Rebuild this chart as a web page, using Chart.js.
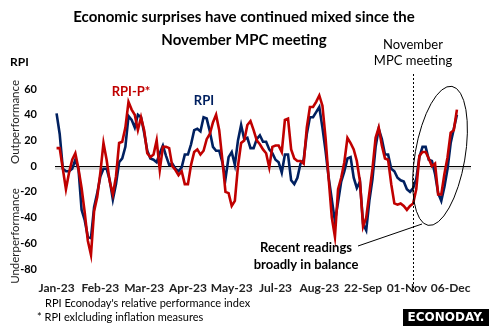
<!DOCTYPE html>
<html>
<head>
<meta charset="utf-8">
<script src="https://cdn.jsdelivr.net/npm/chart.js@4.4.1/dist/chart.umd.min.js"></script>
<style>
  html, body { margin: 0; padding: 0; background: #fff; }
  #wrap { width: 489px; height: 326px; }
</style>
</head>
<body>
<div id="wrap"><canvas id="rpiChart" width="489" height="326"></canvas></div>
<script>
// Axis labels shown under the chart, one every labelStep readings
const tickLabels = ['Jan-23', 'Feb-23', 'Mar-23', 'Apr-23', 'May-23', 'Jul-23', 'Aug-23', '22-Sep', '01-Nov', '06-Dec'];
const labelStep = 14;
const axisSlots = 133;   // a few empty slots after the last reading
const meetingIndex = 114; // November MPC meeting

// Econoday relative performance index
const rpi = [
  41, 25, -2, -4, -4, -2, 5, -2, -34, -42,
  -55, -56, -32, -21, -8, -2, -2, -11, -26, -14,
  3, 6, 15, 39, 36, 30, 40, 38, 26, 12,
  6, 5, 3, 10, 16, 8, 1, 2, -2, -4,
  -1, 9, 9, 17, 28, 29, 27, 38, 37, 27,
  15, 12, 12, 3, -10, 7, 11, 1, 20, 32,
  21, 22, 14, 14, 21, 24, 19, 19, 13, 10,
  5, 3, -5, 9, 9, -11, -14, -9, 2, 5,
  25, 38, 38, 42, 46, 30, 12, -9, -26, -43,
  -28, -12, -4, 6, 7, -9, -17, -12, -45, -50,
  -27, -10, 15, 29, 21, 9, 9, -2, -4, -9,
  -11, -12, -18, -20, -17, -10, 7, 15, 15, 5,
  4, -6, -21, -27, -16, -2, 18, 29, 40
];

// RPI excluding inflation measures
const rpiP = [
  14, 14, -2, -18, -5, 5, 10, -2, -17, -36,
  -58, -69, -35, -24, -5, 18, 5, -12, -22, -8,
  18, 19, 30, 50, 44, 40, 28, 38, 28, 10,
  7, 9, 20, -3, 15, 15, 14, 0, -3, -7,
  -4, -14, -14, 1, 11, 13, 9, 12, 21, 25,
  34, 40, 28, 5, -20, -21, -31, -27, 0, 18,
  20, 32, 35, 28, 20, 17, 13, 10, -1, 15,
  16, 16, 11, 36, 37, 13, 6, 4, 4, 2,
  30, 46, 46, 50, 55, 47, 22, -10, -40, -55,
  -18, -9, 3, 22, 18, 13, 4, -12, -47, -40,
  -21, -2, 22, 30, 16, 6, 5, -14, -29, -30,
  -29, -31, -34, -31, -29, -18, 8, 11, 11, 6,
  0, 2, -22, -22, -6, 7, 26, 28, 44
];

const labels = new Array(axisSlots).fill('');
tickLabels.forEach((t, i) => { labels[i * labelStep] = t; });

const NAVY = '#002060';
const RED = '#C00000';
const FONT = 'Lato, "Open Sans", sans-serif';

// Zero line, meeting marker, callout and all the free text
const decorations = {
  id: 'decorations',
  beforeDatasetsDraw(chart) {
    const { ctx, chartArea, scales } = chart;
    const y0 = scales.y.getPixelForValue(0);
    ctx.save();
    ctx.strokeStyle = '#d9d9d9';
    ctx.lineWidth = 3;
    ctx.beginPath();
    ctx.moveTo(chartArea.left, y0 + 2);
    ctx.lineTo(chartArea.right, y0 + 2);
    ctx.stroke();
    ctx.strokeStyle = '#000';
    ctx.lineWidth = 1;
    ctx.beginPath();
    ctx.moveTo(chartArea.left, Math.round(y0) + 0.5);
    ctx.lineTo(chartArea.right, Math.round(y0) + 0.5);
    ctx.stroke();
    ctx.restore();
  },
  afterDatasetsDraw(chart) {
    const { ctx, scales } = chart;
    const x = scales.x, y = scales.y;
    ctx.save();

    // dashed marker for the November meeting
    const mx = Math.round(x.getPixelForValue(meetingIndex)) + 0.5;
    ctx.strokeStyle = '#000';
    ctx.lineWidth = 1;
    ctx.setLineDash([2, 2]);
    ctx.beginPath();
    ctx.moveTo(mx, 74);
    ctx.lineTo(mx, 292);
    ctx.stroke();
    ctx.setLineDash([]);

    // ring round the latest readings
    const ex = x.getPixelForValue(122.6);
    const ey = y.getPixelForValue(8);
    ctx.beginPath();
    ctx.ellipse(ex, ey, 25, 70.5, 0.17, 0, Math.PI * 2);
    ctx.stroke();

    // callout from the note to the ring
    ctx.beginPath();
    ctx.moveTo(358, 246);
    ctx.lineTo(422, 224);
    ctx.stroke();

    const text = (str, tx, ty, font, color, align) => {
      ctx.font = font;
      ctx.fillStyle = color;
      ctx.textAlign = align || 'center';
      ctx.textBaseline = 'middle';
      ctx.fillText(str, tx, ty);
    };

    text('Economic surprises have continued mixed since the', 244, 17, 'bold 15px ' + FONT, '#000');
    text('November MPC meeting', 244, 40, 'bold 15px ' + FONT, '#000');
    text('RPI', 10, 62, 'bold 12px ' + FONT, '#000', 'left');
    text('November', 413, 45, '13px ' + FONT, '#000');
    text('MPC meeting', 413, 61, '13px ' + FONT, '#000');
    text('RPI-P*', 131, 92, 'bold 13px ' + FONT, RED);
    text('RPI', 204, 101, 'bold 13px ' + FONT, NAVY);
    text('Recent readings', 306, 248, 'bold 13px ' + FONT, '#000');
    text('broadly in balance', 306, 265, 'bold 13px ' + FONT, '#000');
    text("RPI Econoday's relative performance index", 45, 303, '11px ' + FONT, '#000', 'left');
    text('* RPI exlcluding inflation measures', 37, 317, '11px ' + FONT, '#000', 'left');

    // rotated side captions
    [['Outperformance', 122], ['Underperformance', 236]].forEach(([s, cy]) => {
      ctx.save();
      ctx.translate(15, cy);
      ctx.rotate(-Math.PI / 2);
      text(s, 0, 0, '11.5px ' + FONT, '#222');
      ctx.restore();
    });

    // logo badge
    ctx.fillStyle = '#000';
    ctx.fillRect(403, 309, 86, 17);
    text('ECONODAY.', 446, 318, 'bold 12px "DejaVu Sans", sans-serif', '#fff');

    ctx.restore();
  }
};

new Chart(document.getElementById('rpiChart'), {
  type: 'line',
  data: {
    labels: labels,
    datasets: [
      { label: 'RPI', data: rpi, borderColor: NAVY, borderWidth: 2.6, order: 2 },
      { label: 'RPI-P*', data: rpiP, borderColor: RED, borderWidth: 2.6, order: 1 }
    ]
  },
  options: {
    responsive: false,
    animation: false,
    devicePixelRatio: 1,
    layout: { padding: { top: 89, bottom: 31, left: 0, right: 18 } },
    elements: { point: { radius: 0 }, line: { tension: 0 } },
    plugins: { legend: { display: false }, tooltip: { enabled: false } },
    scales: {
      x: {
        offset: true,
        grid: { display: false },
        border: { display: false },
        ticks: {
          autoSkip: false, maxRotation: 0, minRotation: 0, padding: 4,
          color: '#222', font: { family: FONT, size: 12, weight: 'bold' }
        },
        afterFit: (s) => { s.height = 26; }
      },
      y: {
        min: -80, max: 60,
        grid: { display: false },
        border: { display: false },
        ticks: {
          stepSize: 20, padding: 10,
          color: '#000', font: { family: FONT, size: 11, weight: 'bold' }
        },
        afterFit: (s) => { s.width = 55; }
      }
    }
  },
  plugins: [decorations]
});
</script>
</body>
</html>
